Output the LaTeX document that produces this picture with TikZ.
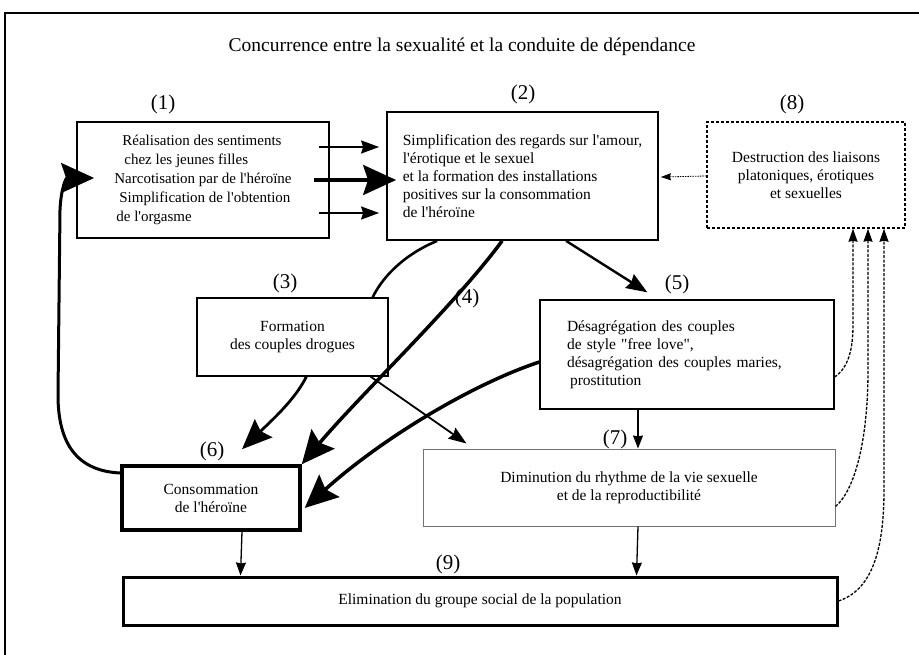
\documentclass[tikz,border=0pt]{standalone}
\usepackage{fontspec}
\setmainfont{Liberation Serif}[Ligatures=TeXOff]
\usetikzlibrary{arrows.meta}

\begin{document}
\begin{tikzpicture}[x=1pt,y=-1pt]
	\useasboundingbox (0,0) rectangle (919,655);
	\draw[line width=2pt] (5,655) -- (5,13) -- (919,13);
	\node[font=\fontsize{19.5}{22}\selectfont] (title) at (462,47) {Concurrence entre la sexualité et la conduite de dépendance};

	\begin{scope}[every node/.style={draw,rectangle,inner sep=0pt,align=left,font=\fontsize{15.5}{18}\selectfont}]
	    \node[line width=1.8pt,minimum width=252pt,minimum height=116pt,font=\fontsize{15}{19}\selectfont] (1) at (203,180) {\hspace*{8pt}Réalisation des sentiments\\ \hspace*{10pt}chez les jeunes filles\\ Narcotisation par de l'héroïne\\ \hspace*{5pt}Simplification de l'obtention\\ \hspace*{2pt}de l'orgasme};
	    \node[line width=1.8pt,minimum width=271pt,minimum height=128pt] (2) at (522.5,176) {Simplification des regards sur l'amour,\\ l'érotique et le sexuel\\ et la formation des installations\\ positives sur la consommation\\ de l'héroïne};
	    \node[line width=1.5pt,dash pattern=on 3pt off 2pt,align=center,minimum width=198pt,minimum height=106pt] (8) at (806,175) {Destruction des liaisons\\ platoniques, érotiques\\ et sexuelles};
	    \node[line width=1.3pt,align=center,minimum width=191pt,minimum height=78pt] (3) at (292.5,337) {Formation\\ des couples drogues};
	    \node[line width=1.3pt,text width=240pt,minimum width=294pt,minimum height=109pt] (5) at (687,354.5) {Désagrégation des couples\\ de style "free love",\\ désagrégation des couples maries,\\ \hspace*{3pt}prostitution};
	    \node[line width=3.5pt,align=center,minimum width=178pt,minimum height=64pt] (6) at (211,498) {Consommation\\ de l'héroïne};
	    \node[line width=1pt,draw=black!55,align=center,minimum width=412pt,minimum height=77pt] (7) at (629,487.5) {Diminution du rhythme de la vie sexuelle\\ et de la reproductibilité};
	    \node[line width=3pt,align=center,minimum width=714pt,minimum height=48pt] (9) at (480,601) {Elimination du groupe social de la population};
	\end{scope}

	\begin{scope}[every node/.style={font=\fontsize{21}{22}\selectfont}]
	    \node (n1) at (163,104) {(1)};
	    \node (n2) at (523,94) {(2)};
	    \node (n3) at (285,283) {(3)};
	    \node (n4) at (467,298) {(4)};
	    \node (n5) at (677,284) {(5)};
	    \node (n6) at (212,451) {(6)};
	    \node (n7) at (615,439) {(7)};
	    \node (n8) at (792,104) {(8)};
	    \node (n9) at (448,564) {(9)};
	\end{scope}

	\begin{scope}[fatarrow/.style={line width=3.5pt,-{Stealth[length=33pt,width=30pt,inset=5pt]}},
	              medarrow/.style={line width=2pt,-{Stealth[length=18pt,width=13pt,inset=2pt]}},
	              smallarrow/.style={line width=1.3pt,-{Stealth[length=13pt,width=10pt,inset=1pt]}},
	              dasharrow/.style={line width=1.3pt,dash pattern=on 3pt off 1.5pt,-{Stealth[length=13pt,width=9pt,inset=1pt]}},
	              dotarrow/.style={line width=0.8pt,dash pattern=on 1.5pt off 1pt,-{Stealth[length=10pt,width=7pt,inset=1pt]}}]
	    % (6) back to (1)
	    \draw[fatarrow,line width=3pt] ([yshift=25pt]6.west) .. controls (78,471) and (58,445) .. (58,395) -- (60,210) .. controls (61,188) and (66,178) .. ([xshift=18pt,yshift=2pt]1.west);
	    % (1) to (2)
	    \draw[medarrow] ([xshift=-11pt,yshift=33pt]1.east) -- ([xshift=-7pt,yshift=29pt]2.west);
	    \draw[fatarrow] ([xshift=-16pt]1.east) -- ([xshift=10pt,yshift=-4pt]2.west);
	    \draw[medarrow] ([xshift=-11pt,yshift=-33pt]1.east) -- ([xshift=-7pt,yshift=-37pt]2.west);
	    \draw[dotarrow] ([yshift=-1pt]8.west) -- ([xshift=2pt,yshift=-1pt]2.east);
	    % down from (2)
	    \draw[line width=2.6pt] ([xshift=51pt]2.south west) .. controls (410,252) and (385,272) .. ([xshift=-16pt]3.north east);
	    \draw[fatarrow] ([xshift=116pt]2.south west) .. controls (455,305) and (360,395) .. (6.north east);
	    \draw[medarrow,line width=2.4pt,-{Stealth[length=21pt,width=16pt,inset=2pt]}] ([xshift=180pt]2.south west) -- ([xshift=108pt,yshift=7pt]5.north west);
	    % from (3)
	    \draw[line width=2.8pt,-{Stealth[length=30pt,width=25pt,inset=4pt]}] ([xshift=110pt]3.south west) .. controls (295,400) and (270,422) .. ([xshift=31pt,yshift=15pt]6.north);
	    \draw[medarrow,line width=1.8pt] ([xshift=-18pt]3.south east) -- ([xshift=44pt,yshift=5pt]7.north west);
	    % from (5)
	    \draw[fatarrow] ([yshift=-7.5pt]5.west) .. controls (470,385) and (380,440) .. ([xshift=3pt,yshift=-10pt]6.east);
	    \draw[smallarrow] ([xshift=-49pt]5.south) -- ([xshift=9pt]7.north);
	    % to (9)
	    \draw[smallarrow] ([xshift=31pt]6.south) -- ([xshift=119pt]9.north west);
	    \draw[smallarrow] ([xshift=9pt]7.south) -- ([xshift=515pt]9.north west);
	    % back up to (8)
	    \draw[dasharrow] ([yshift=-22.5pt]5.east) .. controls (848,368) and (853,350) .. (853,325) -- ([xshift=47pt]8.south);
	    \draw[dasharrow] ([yshift=-19pt]7.east) .. controls (855,490) and (868,440) .. (868,370) -- ([xshift=62pt]8.south);
	    \draw[dasharrow] (9.east) .. controls (872,590) and (884,550) .. (884,490) -- ([xshift=78pt]8.south);
	\end{scope}
\end{tikzpicture}
\end{document}
